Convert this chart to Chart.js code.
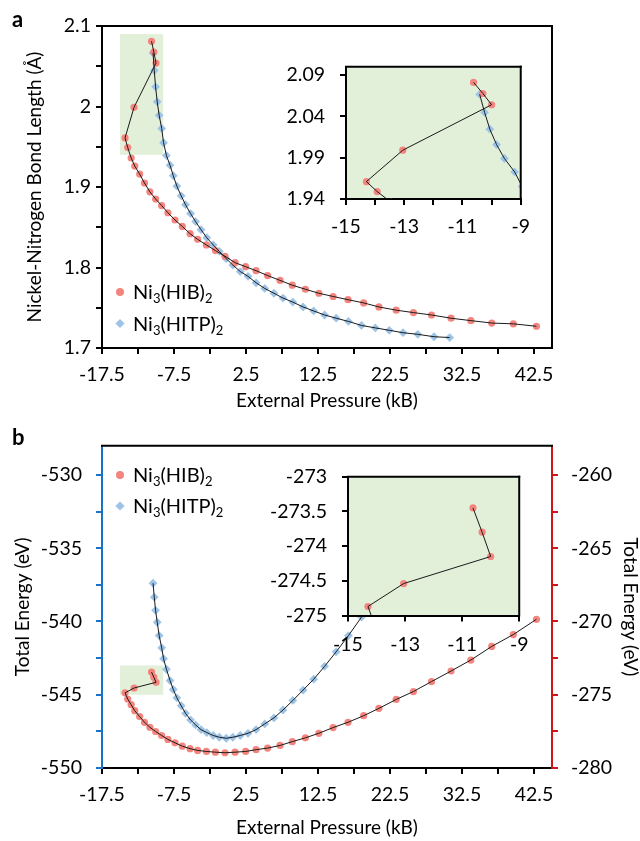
<!DOCTYPE html>
<html>
<head>
<meta charset="utf-8">
<script src="https://cdn.jsdelivr.net/npm/chart.js@4.4.1/dist/chart.umd.min.js"></script>
<style>
  html, body { margin: 0; padding: 0; background: #fff; }
  #wrap { position: relative; width: 640px; height: 841px; overflow: hidden; }
  canvas { position: absolute; }
</style>
</head>
<body>
<div id="wrap">
  <canvas id="mainA" width="640" height="420" style="left:0;top:0"></canvas>
  <canvas id="insetA" width="260" height="200" style="left:280px;top:40px"></canvas>
  <canvas id="mainB" width="640" height="421" style="left:0;top:420px"></canvas>
  <canvas id="insetB" width="270" height="210" style="left:270px;top:450px"></canvas>
</div>
<script>
// pressures (kB) for each calculated structure
const pHIB = [-10.62, -10.3, -10.0, -13.05, -14.3, -13.93, -13.45, -12.95, -12.27, -11.6, -10.85, -10.05, -9.22, -8.35, -7.36, -6.35, -5.27, -4.22, -3.0, -1.75, -0.42, 0.98, 2.45, 3.9, 5.5, 7.23, 8.93, 10.75, 12.62, 14.6, 16.67, 18.84, 20.96, 23.36, 25.75, 28.27, 30.98, 33.73, 36.63, 39.63, 42.84];
const pHITP = [-10.41, -10.24, -10.06, -9.83, -9.56, -9.21, -8.95, -8.55, -8.05, -7.6, -7.1, -6.5, -5.9, -5.2, -4.5, -3.75, -2.95, -2.05, -1.2, -0.25, 0.67, 1.7, 2.78, 3.9, 5.1, 6.38, 7.64, 9.0, 10.43, 11.9, 13.42, 15.02, 16.73, 18.54, 20.46, 22.4, 24.31, 26.36, 28.61, 30.79];

// Ni-N bond length (A)
const bondHIB = [2.081, 2.0676, 2.054, 1.999, 1.961, 1.949, 1.936, 1.926, 1.916, 1.905, 1.894, 1.885, 1.877, 1.868, 1.859, 1.851, 1.842, 1.835, 1.828, 1.821, 1.814, 1.806, 1.801, 1.796, 1.790, 1.784, 1.778, 1.773, 1.768, 1.764, 1.760, 1.756, 1.751, 1.747, 1.744, 1.741, 1.737, 1.734, 1.731, 1.730, 1.727];
const bondHITP = [2.0665, 2.0447, 2.0244, 2.0058, 1.989, 1.9728, 1.955, 1.939, 1.927, 1.914, 1.901, 1.889, 1.878, 1.867, 1.857, 1.847, 1.837, 1.828, 1.820, 1.811, 1.803, 1.795, 1.789, 1.781, 1.774, 1.768, 1.762, 1.757, 1.751, 1.746, 1.741, 1.737, 1.733, 1.728, 1.725, 1.722, 1.719, 1.717, 1.714, 1.713];

// total energy (eV) - HIB on right axis, HITP on left axis
const energyHIB = [-273.45, -273.8, -274.15, -274.54, -274.87, -275.29, -275.68, -276.09, -276.49, -276.88, -277.22, -277.51, -277.78, -278.05, -278.28, -278.51, -278.68, -278.80, -278.87, -278.92, -278.96, -278.92, -278.87, -278.75, -278.64, -278.46, -278.2, -277.94, -277.63, -277.24, -276.88, -276.43, -275.93, -275.32, -274.78, -274.10, -273.38, -272.63, -271.70, -270.89, -269.85];
const energyHITP = [-537.39, -538.34, -539.24, -540.05, -540.96, -541.80, -542.54, -543.26, -544.03, -544.64, -545.21, -545.75, -546.27, -546.72, -547.06, -547.38, -547.58, -547.78, -547.90, -547.97, -547.90, -547.78, -547.63, -547.38, -546.99, -546.58, -546.04, -545.39, -544.68, -543.94, -543.06, -542.07, -540.96, -539.7, -538.3];

const seriesNames = ['Ni3(HIB)2', 'Ni3(HITP)2'];

// ticks
const xTicks = [-17.5, -12.5, -7.5, -2.5, 2.5, 7.5, 12.5, 17.5, 22.5, 27.5, 32.5, 37.5, 42.5];
const xLabels = ['-17.5', '-7.5', '2.5', '12.5', '22.5', '32.5', '42.5'];
const bondTicks = [1.7, 1.75, 1.8, 1.85, 1.9, 1.95, 2, 2.05, 2.1];
const bondLabels = ['1.7', '1.8', '1.9', '2', '2.1'];
const eLeftTicks = [-550, -547.5, -545, -542.5, -540, -537.5, -535, -532.5, -530];
const eLeftLabels = ['-550', '-545', '-540', '-535', '-530'];
const eRightTicks = [-280, -277.5, -275, -272.5, -270, -267.5, -265, -262.5, -260];
const eRightLabels = ['-280', '-275', '-270', '-265', '-260'];
const insAxTicks = [-15, -14, -13, -12, -11, -10, -9];
const insAxLabels = ['-15', '-13', '-11', '-9'];
const insAyTicks = [1.94, 1.99, 2.04, 2.09];
const insAyLabels = ['1.94', '1.99', '2.04', '2.09'];
const insBxTicks = [-15, -13, -11, -9];
const insBxLabels = ['-15', '-13', '-11', '-9'];
const insByTicks = [-275, -274.5, -274, -273.5, -273];
const insByLabels = ['-275', '-274.5', '-274', '-273.5', '-273'];

// zoomed regions
const zoomX = [-15, -9];
const zoomBond = [1.94, 2.09];
const zoomEnergy = [-275, -273];

const RED = '#F4857E', BLUE = '#9DC3E6', GREEN = '#E2F0D9';
const AX_BLUE = '#1673C8', AX_RED = '#D01418';
const FONT = 'Lato';

function pts(xs, ys) { return ys.map((y, i) => ({x: xs[i], y: y})); }

function lineSet(xs, ys, yAxis) {
  return { data: pts(xs, ys), yAxisID: yAxis, showLine: true, borderColor: '#1a1a1a', borderWidth: 1,
           pointRadius: 0, tension: 0, order: 0 };
}
function markSet(xs, ys, yAxis, color, shape, r) {
  return { data: pts(xs, ys), yAxisID: yAxis, showLine: false, pointStyle: shape, pointRadius: r,
           pointBackgroundColor: color, pointBorderWidth: 0, pointBorderColor: color, order: 1 };
}

function axis(o) {
  const col = o.color || '#000';
  return {
    type: 'linear', position: o.pos, min: o.min, max: o.max,
    afterBuildTicks: s => { s.ticks = o.ticks.map(v => ({value: v})); },
    afterFit: s => { if (o.pos === 'bottom') s.height = o.size; else s.width = o.size; },
    ticks: { autoSkip: false, maxRotation: 0, padding: o.pad, color: '#000', font: {family: FONT, size: 19.5},
             callback: v => o.labels.includes(String(v)) ? String(v) : '' },
    grid: { drawOnChartArea: false, drawTicks: true, tickLength: 6, lineWidth: 2, color: col },
    border: { display: true, color: col, width: 2 },
    title: o.title ? { display: true, text: o.title, color: '#000',
                       font: {family: FONT, size: 19, lineHeight: 1}, padding: o.titlePad }
                   : { display: false }
  };
}

const framePlugin = {
  id: 'frame',
  beforeDraw(chart, args, o) {
    const {ctx, chartArea: a} = chart;
    ctx.save();
    if (o.fill) { ctx.fillStyle = o.fill; ctx.fillRect(a.left, a.top, a.width, a.height); }
    if (o.box) {
      const xs = chart.scales.x, ys = chart.scales[o.box.axis];
      const x1 = xs.getPixelForValue(o.box.x[0]), x2 = xs.getPixelForValue(o.box.x[1]);
      const y1 = ys.getPixelForValue(o.box.y[1]), y2 = ys.getPixelForValue(o.box.y[0]);
      ctx.fillStyle = GREEN; ctx.fillRect(x1, y1, x2 - x1, y2 - y1);
    }
    ctx.restore();
  },
  afterDraw(chart, args, o) {
    const {ctx, chartArea: a} = chart;
    ctx.save();
    ctx.strokeStyle = '#000'; ctx.lineWidth = 2; ctx.lineCap = 'square';
    (o.sides || []).forEach(s => {
      ctx.beginPath();
      if (s === 'top') { ctx.moveTo(a.left, a.top); ctx.lineTo(a.right, a.top); }
      if (s === 'right') { ctx.moveTo(a.right, a.top); ctx.lineTo(a.right, a.bottom); }
      ctx.stroke();
    });
    if (o.tag) {
      ctx.fillStyle = '#000'; ctx.font = 'bold 22px ' + FONT; ctx.textBaseline = 'alphabetic';
      ctx.fillText(o.tag.text, o.tag.x, o.tag.y);
    }
    ctx.restore();
  }
};

function drawMarker(ctx, shape, x, y, r, color) {
  ctx.beginPath();
  if (shape === 'circle') ctx.arc(x, y, r, 0, Math.PI * 2);
  else { ctx.moveTo(x, y - r); ctx.lineTo(x + r, y); ctx.lineTo(x, y + r); ctx.lineTo(x - r, y); ctx.closePath(); }
  ctx.fillStyle = color; ctx.fill();
}

const legendPlugin = {
  id: 'subLegend',
  afterDraw(chart, args, o) {
    if (!o.items) return;
    const ctx = chart.ctx;
    ctx.save();
    o.items.forEach((it, k) => {
      const y = o.y + k * o.gap;
      drawMarker(ctx, it.shape, o.x, y, it.r, it.color);
      let x = o.x + 13;
      ctx.fillStyle = '#000'; ctx.textBaseline = 'alphabetic';
      it.name.match(/\d+|\D+/g).forEach(part => {
        const sub = /^\d+$/.test(part);
        ctx.font = (sub ? 13 : 20) + 'px ' + FONT;
        ctx.fillText(part, x, y + 7 + (sub ? 4 : 0));
        x += ctx.measureText(part).width;
      });
    });
    ctx.restore();
  }
};

const legendItems = [
  {name: seriesNames[0], shape: 'circle', r: 4, color: RED},
  {name: seriesNames[1], shape: 'diamond', r: 4.6, color: BLUE}
];

const base = { responsive: false, animation: false, devicePixelRatio: 1, events: [] };

// panel a
new Chart(document.getElementById('mainA'), {
  type: 'scatter',
  data: { datasets: [
    lineSet(pHIB, bondHIB, 'y'), lineSet(pHITP, bondHITP, 'y'),
    markSet(pHIB, bondHIB, 'y', RED, 'circle', 3.6), markSet(pHITP, bondHITP, 'y', BLUE, 'rectRot', 4.4)
  ]},
  options: Object.assign({}, base, {
    layout: {padding: {left: 0, top: 26, right: 88, bottom: 0}},
    plugins: { legend: {display: false}, tooltip: {enabled: false},
      frame: { sides: ['top', 'right'], box: {axis: 'y', x: zoomX, y: zoomBond}, tag: {text: 'a', x: 12, y: 27} },
      subLegend: { x: 120, y: 292, gap: 31.5, items: legendItems } },
    scales: {
      x: axis({pos: 'bottom', min: -17.5, max: 45, ticks: xTicks, labels: xLabels, size: 72, pad: 9,
               title: 'External Pressure (kB)', titlePad: {bottom: 9.5}}),
      y: axis({pos: 'left', min: 1.7, max: 2.1, ticks: bondTicks, labels: bondLabels, size: 102, pad: 5,
               title: 'Nickel-Nitrogen Bond Length (Å)', titlePad: {top: 25.5}})
    }
  }),
  plugins: [framePlugin, legendPlugin]
});

new Chart(document.getElementById('insetA'), {
  type: 'scatter',
  data: { datasets: [
    lineSet(pHIB, bondHIB, 'y'), lineSet(pHITP, bondHITP, 'y'),
    markSet(pHIB, bondHIB, 'y', RED, 'circle', 3.6), markSet(pHITP, bondHITP, 'y', BLUE, 'rectRot', 4.4)
  ]},
  options: Object.assign({}, base, {
    layout: {padding: {left: 0, top: 8, right: 14, bottom: 0}},
    plugins: { legend: {display: false}, tooltip: {enabled: false},
      frame: { fill: GREEN, sides: ['top', 'right'] } },
    scales: {
      x: axis({pos: 'bottom', min: -15, max: -9, ticks: insAxTicks, labels: insAxLabels, size: 41, pad: 10}),
      y: axis({pos: 'left', min: 1.94, max: 2.1, ticks: insAyTicks, labels: insAyLabels, size: 66, pad: 15})
    }
  }),
  plugins: [framePlugin]
});

// panel b
new Chart(document.getElementById('mainB'), {
  type: 'scatter',
  data: { datasets: [
    lineSet(pHIB, energyHIB, 'yR'), lineSet(pHITP, energyHITP, 'y'),
    markSet(pHIB, energyHIB, 'yR', RED, 'circle', 3.6), markSet(pHITP, energyHITP, 'y', BLUE, 'rectRot', 4.4)
  ]},
  options: Object.assign({}, base, {
    layout: {padding: {left: 0, top: 23, right: 0, bottom: 0}},
    plugins: { legend: {display: false}, tooltip: {enabled: false},
      frame: { sides: ['top'], box: {axis: 'yR', x: zoomX, y: zoomEnergy}, tag: {text: 'b', x: 12, y: 25} },
      subLegend: { x: 120, y: 55, gap: 31, items: legendItems } },
    scales: {
      x: axis({pos: 'bottom', min: -17.5, max: 45, ticks: xTicks, labels: xLabels, size: 73, pad: 9,
               title: 'External Pressure (kB)', titlePad: {bottom: 3.5}}),
      y: axis({pos: 'left', min: -550, max: -528, ticks: eLeftTicks, labels: eLeftLabels, size: 102, pad: 14,
               color: AX_BLUE, title: 'Total Energy (eV)', titlePad: {top: 13.5}}),
      yR: axis({pos: 'right', min: -280, max: -258, ticks: eRightTicks, labels: eRightLabels, size: 88, pad: 13,
                color: AX_RED, title: 'Total Energy (eV)', titlePad: {top: 0.5}})
    }
  }),
  plugins: [framePlugin, legendPlugin]
});

new Chart(document.getElementById('insetB'), {
  type: 'scatter',
  data: { datasets: [
    lineSet(pHIB, energyHIB, 'y'),
    markSet(pHIB, energyHIB, 'y', RED, 'circle', 3.6)
  ]},
  options: Object.assign({}, base, {
    layout: {padding: {left: 0, top: 13, right: 14, bottom: 0}},
    plugins: { legend: {display: false}, tooltip: {enabled: false},
      frame: { fill: GREEN, sides: ['top', 'right'] } },
    scales: {
      x: axis({pos: 'bottom', min: -15, max: -9, ticks: insBxTicks, labels: insBxLabels, size: 44.5, pad: 11.5}),
      y: axis({pos: 'left', min: -275, max: -273, ticks: insByTicks, labels: insByLabels, size: 78, pad: 15})
    }
  }),
  plugins: [framePlugin]
});
</script>
</body>
</html>
